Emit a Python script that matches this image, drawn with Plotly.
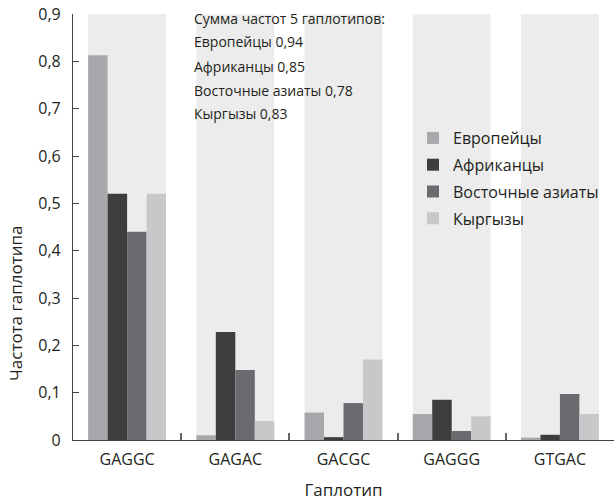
import plotly.graph_objects as go

haplotypes = ["GAGGC", "GAGAC", "GACGC", "GAGGG", "GTGAC"]
europeans = [0.813, 0.010, 0.058, 0.055, 0.005]
africans = [0.520, 0.228, 0.006, 0.085, 0.011]
east_asians = [0.440, 0.148, 0.078, 0.019, 0.097]
kyrgyz = [0.520, 0.040, 0.170, 0.050, 0.055]
series_names = ["Европейцы", "Африканцы", "Восточные азиаты", "Кыргызы"]
series_colors = ["#a7a8ab", "#3d3d3e", "#6a6b6f", "#c7c8ca"]
y_tick_vals = [0, 0.1, 0.2, 0.3, 0.4, 0.5, 0.6, 0.7, 0.8, 0.9]
y_tick_text = ["0", "0,1", "0,2", "0,3", "0,4", "0,5", "0,6", "0,7", "0,8", "0,9"]
summary_lines = [
    "Сумма частот 5 гаплотипов:",
    "Европейцы 0,94",
    "Африканцы 0,85",
    "Восточные азиаты 0,78",
    "Кыргызы 0,83",
]

FONT = "Open Sans"
TXT = "#231f20"

# plot area in page px: x 73..614, y 14..440 (body margin removed via post_script)
L, T, PW, PH = 73, 14, 541, 426
BOT_PX = T + PH

fig = go.Figure()
for name, vals, col in zip(series_names, [europeans, africans, east_asians, kyrgyz], series_colors):
    fig.add_trace(go.Bar(x=haplotypes, y=vals, name=name, marker=dict(color=col, line=dict(width=0)),
                         legendgroup=name))

# light background bands behind each category group
for i in range(len(haplotypes)):
    fig.add_shape(type="rect", xref="x", yref="y", x0=i - 0.36, x1=i + 0.36, y0=0, y1=0.9,
                  fillcolor="#ececec", line=dict(width=0), layer="below")

# summary text lines (page px positions)
line_y_px = [18, 42, 66, 90, 113]
for txt, ypx in zip(summary_lines, line_y_px):
    fig.add_annotation(text=txt, xref="paper", yref="paper", x=(192 - L) / PW, y=(BOT_PX - ypx) / PH,
                       xanchor="left", yanchor="middle", showarrow=False,
                       font=dict(family=FONT, size=14, color=TXT))

# y axis title
fig.add_annotation(text="Частота гаплотипа", xref="paper", yref="paper",
                   x=(15 - L) / PW, y=(BOT_PX - 303) / PH, xanchor="center", yanchor="middle",
                   textangle=-90, showarrow=False, font=dict(family=FONT, size=17, color=TXT))

fig.update_layout(
    width=614, height=501,
    margin=dict(l=L, r=0, t=T, b=501 - T - PH, autoexpand=False),
    paper_bgcolor="white", plot_bgcolor="white",
    barmode="group", bargap=0.28, bargroupgap=0,
    font=dict(family=FONT, size=14, color=TXT),
    showlegend=True,
    legend=dict(x=(413 - L) / PW, y=(BOT_PX - 121) / PH, xanchor="left", yanchor="top",
                bgcolor="rgba(0,0,0,0)",
                tracegroupgap=3, font=dict(family=FONT, size=16, color=TXT)),
)
fig.update_xaxes(range=[-0.5, 4.5], showline=True, linecolor="#444", linewidth=1.2,
                 tickson="boundaries", ticks="inside", ticklen=7, tickwidth=2, tickcolor="#666",
                 showgrid=False, zeroline=False, ticklabelstandoff=5, automargin=False,
                 title=dict(text="Гаплотип", font=dict(size=17), standoff=14),
                 tickfont=dict(size=16, color=TXT))
fig.update_yaxes(range=[0, 0.9], showline=True, linecolor="#444", linewidth=1.2,
                 tickvals=y_tick_vals, ticktext=y_tick_text, ticks="inside", ticklen=6,
                 tickcolor="#444", showgrid=False, zeroline=False, automargin=False,
                 ticklabelstandoff=8, ticklabeloverflow="allow",
                 tickfont=dict(size=16, color=TXT))

fig.write_html("out.html", config={"displayModeBar": False},
               post_script="document.body.style.margin='0';")
